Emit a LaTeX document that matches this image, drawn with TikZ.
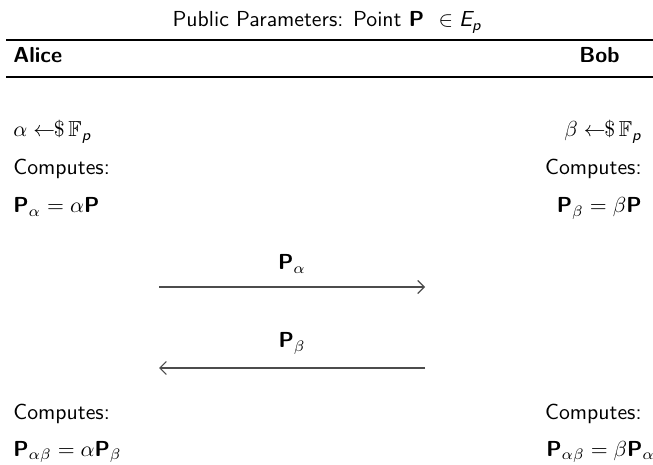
\documentclass[tikz,border=0pt]{standalone}
\usepackage{amsmath,amssymb}
\usetikzlibrary{arrows.meta}
\newcommand{\bPt}{\text{\bfseries P}}
\newcommand{\itp}{\text{\itshape p}}
\newcommand{\itE}{\text{\itshape E}}
\tikzset{
  txt/.style={inner sep=0pt, font=\sffamily},
  rulethick/.style={line width=0.8pt},
  rulethin/.style={line width=0.5pt},
  msg/.style={line width=0.5pt, draw=black!70, -{Straight Barb[length=3pt,width=6pt]}}
}
\begin{document}
\begin{tikzpicture}[x=0.46pt, y=-0.46pt]
\useasboundingbox (0,0) rectangle (653,465);
% header
\node[txt, anchor=base] (title) at (327,27) {Public Parameters: Point \textbf{P}\ \ $\in \itE_{\itp}$};
\coordinate (r1a) at (6,40); \coordinate (r1b) at (653,40);
\draw[rulethick] (r1a) -- (r1b);
\node[txt, anchor=base west] (alice) at (13,63) {\bfseries Alice};
\node[txt, anchor=base east] (bob) at (620,63) {\bfseries Bob};
\coordinate (r2a) at (6,77); \coordinate (r2b) at (653,77);
\draw[rulethin] (r2a) -- (r2b);
% Alice column
\node[txt, anchor=base west] (a1) at (13,137) {$\alpha \leftarrow\!\!\$\, \mathbb{F}_{\itp}$};
\node[txt, anchor=base west] (a2) at (13,175) {Computes:};
\node[txt, anchor=base west] (a3) at (13,213) {$\bPt_{\alpha} = \alpha\bPt$};
\node[txt, anchor=base west] (a4) at (13,420) {Computes:};
\node[txt, anchor=base west] (a5) at (13,456) {$\bPt_{\alpha\beta} = \alpha\bPt_{\beta}$};
% Bob column
\node[txt, anchor=base east] (b1) at (642,137) {$\beta \leftarrow\!\!\$\, \mathbb{F}_{\itp}$};
\node[txt, anchor=base east] (b2) at (642,175) {Computes:};
\node[txt, anchor=base east] (b3) at (642,213) {$\bPt_{\beta} = \beta\bPt$};
\node[txt, anchor=base east] (b4) at (642,420) {Computes:};
\node[txt, anchor=base west] (b5) at (546,456) {$\bPt_{\alpha\beta} = \beta\bPt_{\alpha}$};
% messages
\coordinate (m1a) at (159,287); \coordinate (m1b) at (425,287);
\draw[msg] (m1a) -- (m1b);
\node[txt, anchor=base] (l1) at (292,270) {$\bPt_{\alpha}$};
\coordinate (m2a) at (425,368); \coordinate (m2b) at (159,368);
\draw[msg] (m2a) -- (m2b);
\node[txt, anchor=base] (l2) at (292,348) {$\bPt_{\beta}$};
\end{tikzpicture}
\end{document}
